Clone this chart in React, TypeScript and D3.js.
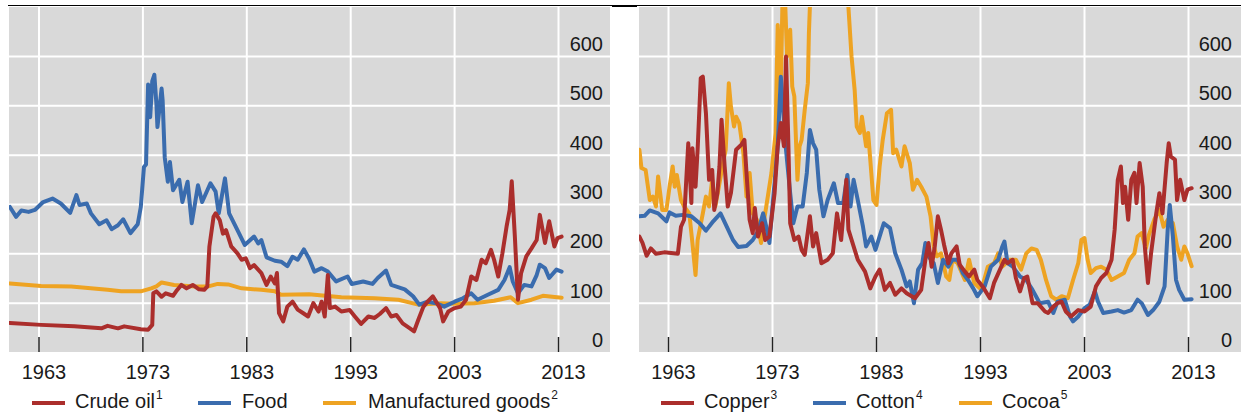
import React from "react";
import * as d3 from "d3";

// values, [year, index]
const crudeOil: [number, number][] = [
  [1960.2, 60], [1963.2, 56], [1966.4, 53], [1969, 49], [1969.6, 54], [1970.6, 49], [1971.2, 53], [1972.8, 47],
  [1973.5, 46], [1973.9, 56], [1974.0, 120], [1974.3, 124], [1974.8, 113], [1975.2, 120], [1975.9, 115],
  [1976.2, 124], [1976.7, 137], [1977.2, 130], [1977.8, 137], [1978.4, 128], [1978.9, 127], [1979.2, 134],
  [1979.4, 215], [1979.8, 275], [1980, 282], [1980.4, 268], [1980.7, 241], [1981, 248], [1981.5, 215],
  [1982.1, 201], [1982.5, 188], [1982.9, 191], [1983.3, 171], [1983.7, 177], [1984.4, 161], [1984.9, 137],
  [1985.3, 154], [1985.7, 140], [1985.9, 161], [1986.1, 80], [1986.5, 63], [1986.9, 93], [1987.4, 103],
  [1987.9, 87], [1988.4, 80], [1988.9, 73], [1989.4, 100], [1989.9, 83], [1990.2, 103], [1990.5, 73],
  [1990.8, 157], [1991, 90], [1991.5, 93], [1992.1, 83], [1992.9, 86], [1993.4, 73], [1994, 58], [1994.7, 73],
  [1995.3, 70], [1995.8, 78], [1996.4, 90], [1996.9, 73], [1997.4, 76], [1998, 59], [1998.7, 49], [1999.1, 43],
  [1999.5, 66], [2000, 93], [2000.4, 103], [2000.9, 114], [2001.6, 90], [2001.9, 63], [2002.4, 83], [2003, 90],
  [2003.6, 93], [2004.1, 107], [2004.6, 154], [2005.1, 147], [2005.6, 188], [2006, 181], [2006.5, 208],
  [2006.8, 188], [2007.2, 154], [2007.6, 201], [2008, 255], [2008.3, 289], [2008.5, 347], [2008.8, 235],
  [2009.1, 107], [2009.4, 161], [2009.9, 195], [2010.4, 211], [2010.9, 228], [2011.2, 279], [2011.7, 222],
  [2012.1, 266], [2012.6, 215], [2012.9, 232], [2013.3, 235],
];

const food: [number, number][] = [
  [1960.2, 295], [1960.8, 275], [1961.3, 288], [1962, 285], [1962.6, 289], [1963.4, 305], [1964.3, 312],
  [1965.1, 302], [1966, 283], [1966.6, 319], [1966.9, 299], [1967.6, 302], [1968, 282], [1968.8, 260],
  [1969.5, 268], [1970, 250], [1970.6, 258], [1971.1, 270], [1971.8, 242], [1972.5, 260], [1972.8, 295],
  [1973.1, 376], [1973.3, 381], [1973.5, 543], [1973.7, 477], [1973.9, 550], [1974.1, 563], [1974.3, 504],
  [1974.4, 457], [1974.8, 535], [1974.9, 511], [1975.1, 396], [1975.4, 346], [1975.6, 386], [1975.9, 329],
  [1976.5, 350], [1976.8, 305], [1977.3, 346], [1977.7, 262], [1978.3, 339], [1978.7, 305], [1979.5, 343],
  [1980, 326], [1980.3, 282], [1980.9, 353], [1981.3, 282], [1982.1, 248], [1982.8, 218], [1983.7, 235],
  [1984.1, 221], [1984.4, 228], [1984.9, 193], [1985.7, 186], [1986.3, 184], [1986.9, 175], [1987.4, 194],
  [1987.9, 188], [1988.5, 209], [1989, 190], [1989.5, 164], [1990.2, 171], [1990.8, 164], [1991.6, 144],
  [1992.7, 154], [1993.1, 139], [1994.2, 144], [1995.1, 139], [1995.6, 151], [1996.4, 166], [1996.9, 137],
  [1998.2, 128], [1999, 114], [1999.6, 97], [2000.4, 103], [2001.2, 100], [2002, 93], [2003, 103],
  [2003.8, 110], [2004.6, 120], [2005.2, 107], [2006.2, 117], [2007.2, 127], [2007.8, 147], [2008.3, 173],
  [2008.6, 144], [2009.1, 120], [2009.7, 137], [2010.4, 134], [2010.9, 157], [2011.2, 178], [2011.7, 171],
  [2012.1, 151], [2012.8, 168], [2013.3, 164],
];

const manufactured: [number, number][] = [
  [1960.2, 140], [1963.2, 135], [1966.1, 134], [1969.6, 127], [1970.9, 124], [1972.8, 124], [1973.8, 130],
  [1974.3, 134], [1974.8, 142], [1976, 137], [1978, 134], [1979.3, 134], [1980.2, 139], [1981.2, 138],
  [1982.5, 130], [1984.4, 127], [1985.7, 124], [1986.3, 117], [1989, 118], [1992.1, 112], [1995.3, 110],
  [1997.6, 107], [1999.5, 97], [2001.7, 100], [2003, 99], [2004.9, 100], [2006.8, 105], [2008.4, 112],
  [2009.1, 100], [2010.4, 107], [2011.5, 115], [2013.3, 111],
];

const copper: [number, number][] = [
  [1960.2, 235], [1960.5, 222], [1960.9, 196], [1961.3, 211], [1961.8, 200], [1962.6, 203], [1963.9, 200],
  [1964.2, 255], [1964.5, 269], [1964.9, 424], [1965.2, 303], [1965.3, 414], [1965.6, 336], [1965.8, 411],
  [1966.1, 556], [1966.3, 559], [1966.6, 485], [1966.9, 350], [1967.2, 370], [1967.4, 289], [1967.7, 323],
  [1967.9, 377], [1968.1, 472], [1968.4, 377], [1968.7, 296], [1969, 323], [1969.5, 411], [1970, 421],
  [1970.3, 431], [1970.5, 364], [1970.8, 269], [1971.1, 242], [1971.3, 293], [1971.6, 235], [1972, 262],
  [1972.3, 228], [1972.7, 235], [1973.2, 323], [1973.5, 418], [1973.8, 465], [1974.1, 418], [1974.3, 600],
  [1974.5, 445], [1974.7, 262], [1975.1, 228], [1975.5, 235], [1975.8, 208], [1976.1, 198], [1976.6, 276],
  [1976.9, 215], [1977.2, 242], [1977.7, 181], [1978.3, 188], [1978.8, 201], [1979.2, 282], [1979.6, 228],
  [1980.1, 350], [1980.3, 249], [1980.8, 215], [1981.2, 188], [1981.9, 164], [1982.4, 130], [1982.9, 154],
  [1983.3, 168], [1983.8, 127], [1984.3, 141], [1984.8, 117], [1985.4, 130], [1985.9, 120], [1986.7, 110],
  [1987.3, 127], [1987.7, 188], [1988, 222], [1988.3, 174], [1988.6, 215], [1988.9, 276], [1989.2, 249],
  [1989.5, 218], [1989.9, 181], [1990.2, 201], [1990.7, 215], [1991, 178], [1991.5, 164], [1991.9, 154],
  [1992.4, 168], [1992.7, 147], [1993.2, 134], [1993.9, 110], [1994.3, 141], [1995, 174], [1995.3, 188],
  [1995.6, 181], [1996.1, 188], [1996.4, 151], [1996.8, 124], [1997.2, 151], [1997.5, 154], [1998, 100],
  [1998.5, 100], [1999.2, 83], [1999.5, 80], [2000, 93], [2000.4, 100], [2000.8, 103], [2001.2, 83],
  [2001.7, 73], [2002.4, 86], [2003, 83], [2003.6, 93], [2004.1, 134], [2004.6, 151], [2005.1, 161],
  [2005.6, 188], [2005.9, 249], [2006.2, 350], [2006.5, 377], [2006.7, 303], [2006.9, 336], [2007.2, 269],
  [2007.5, 350], [2007.8, 364], [2008, 303], [2008.3, 384], [2008.6, 336], [2008.8, 215], [2009.1, 141],
  [2009.4, 201], [2009.9, 282], [2010.2, 323], [2010.5, 282], [2010.9, 384], [2011.1, 424], [2011.3, 397],
  [2011.7, 391], [2011.9, 309], [2012.2, 350], [2012.6, 309], [2012.9, 330], [2013.3, 333],
];

const cotton: [number, number][] = [
  [1960.2, 276], [1960.7, 277], [1961.2, 288], [1962, 282], [1962.8, 266], [1963.1, 284], [1963.7, 277],
  [1964.4, 279], [1965.2, 276], [1966, 262], [1966.6, 247], [1967.3, 266], [1968, 282], [1968.6, 255],
  [1969.2, 228], [1969.7, 214], [1970.5, 216], [1971.1, 228], [1971.6, 245], [1972.1, 282], [1972.4, 255],
  [1972.7, 222], [1973, 296], [1973.5, 418], [1973.8, 559], [1974, 499], [1974.3, 411], [1974.7, 323],
  [1975, 262], [1975.4, 296], [1975.9, 296], [1976.3, 364], [1976.6, 451], [1976.9, 424], [1977.2, 411],
  [1977.5, 330], [1977.9, 276], [1978.3, 309], [1978.9, 343], [1979.3, 303], [1979.8, 303], [1980.2, 360],
  [1980.5, 296], [1980.8, 350], [1981.2, 309], [1981.7, 255], [1982, 215], [1982.5, 235], [1982.9, 208],
  [1983.4, 242], [1983.7, 262], [1984.3, 252], [1984.8, 201], [1985.4, 168], [1985.9, 134], [1986.2, 144],
  [1986.6, 100], [1987, 168], [1987.4, 181], [1987.7, 222], [1988, 195], [1988.5, 181], [1988.9, 141],
  [1989.4, 188], [1989.9, 174], [1990.3, 188], [1990.8, 188], [1991.3, 161], [1991.8, 147], [1992.3, 130],
  [1992.7, 114], [1993.4, 134], [1994, 174], [1994.7, 188], [1995.1, 215], [1995.3, 225], [1995.6, 181],
  [1996.1, 174], [1996.8, 154], [1997.4, 147], [1998, 127], [1998.7, 100], [1999.5, 103], [2000, 80],
  [2000.4, 103], [2001.1, 107], [2001.6, 73], [2001.9, 63], [2002.4, 73], [2003, 90], [2003.5, 97],
  [2004, 124], [2004.3, 103], [2004.8, 80], [2005.6, 83], [2006.2, 86], [2006.8, 81], [2007.5, 86],
  [2008.1, 107], [2008.5, 100], [2009.1, 76], [2009.6, 86], [2010.2, 103], [2010.7, 134], [2011, 249],
  [2011.2, 299], [2011.5, 235], [2011.8, 147], [2012.1, 127], [2012.6, 107], [2013.3, 108],
];

// cocoa runs off the top of the panel in the late 1970s
const cocoa: [number, number][] = [
  [1960.2, 411], [1960.4, 374], [1960.8, 370], [1961.2, 309], [1961.5, 316], [1961.8, 296], [1962, 357],
  [1962.4, 289], [1962.8, 289], [1963.1, 336], [1963.4, 377], [1963.6, 336], [1963.8, 360], [1964.2, 309],
  [1964.5, 296], [1965, 282], [1965.3, 222], [1965.6, 157], [1965.8, 228], [1966.3, 282], [1966.6, 316],
  [1966.9, 296], [1967.2, 350], [1967.5, 296], [1967.9, 343], [1968.3, 391], [1968.5, 411], [1968.8, 546],
  [1969, 499], [1969.3, 458], [1969.5, 478], [1969.8, 465], [1970.2, 404], [1970.5, 316], [1970.8, 364],
  [1971.1, 282], [1971.5, 269], [1971.9, 222], [1972.2, 269], [1972.6, 323], [1972.9, 364], [1973.3, 445],
  [1973.5, 664], [1973.8, 532], [1974.0, 760], [1974.2, 720], [1974.4, 600], [1974.7, 654], [1974.9, 539],
  [1975.1, 519], [1975.4, 350], [1975.6, 418], [1975.8, 431], [1976.1, 492], [1976.4, 546], [1976.5, 647],
  [1976.7, 760], [1977.2, 950], [1977.6, 1000], [1978.1, 820], [1978.6, 900], [1979.1, 800], [1979.7, 780],
  [1980.1, 740], [1980.3, 700], [1980.6, 600], [1980.9, 532], [1981.1, 458], [1981.4, 445], [1981.6, 478],
  [1982, 418], [1982.2, 445], [1982.5, 364], [1982.7, 309], [1983, 299], [1983.3, 377], [1983.6, 431],
  [1984, 485], [1984.4, 492], [1984.6, 404], [1984.9, 411], [1985.4, 377], [1985.7, 418], [1986.2, 384],
  [1986.5, 330], [1986.9, 350], [1987.3, 336], [1987.8, 316], [1988.2, 276], [1988.5, 215], [1988.8, 195],
  [1989.2, 201], [1989.7, 154], [1990, 147], [1990.3, 188], [1990.8, 181], [1991.5, 147], [1991.9, 188],
  [1992.4, 141], [1993.1, 127], [1993.7, 174], [1994.3, 181], [1994.7, 201], [1995.1, 174], [1995.8, 188],
  [1996.4, 188], [1996.9, 168], [1997.4, 201], [1997.9, 211], [1998.4, 208], [1998.8, 188], [1999.3, 147],
  [1999.8, 114], [2000.3, 107], [2000.8, 114], [2001.4, 110], [2001.9, 147], [2002.4, 181], [2002.7, 228],
  [2003, 232], [2003.3, 188], [2003.6, 161], [2004.1, 171], [2004.6, 174], [2005.1, 168], [2005.6, 147],
  [2006.2, 154], [2006.8, 161], [2007.3, 188], [2007.8, 201], [2008.1, 235], [2008.5, 242], [2008.9, 211],
  [2009.2, 239], [2009.7, 269], [2010.2, 289], [2010.6, 255], [2011, 269], [2011.5, 262], [2011.9, 215],
  [2012.3, 188], [2012.6, 215], [2012.9, 201], [2013.3, 175],
];

const yearTicks = [1963, 1973, 1983, 1993, 2003, 2013];
const valueTicks = [0, 100, 200, 300, 400, 500, 600];

const RED = "#ab2e2c";
const BLUE = "#3a6cae";
const ORANGE = "#eea322";
const FONT = "'Liberation Sans', Arial, sans-serif";

const panels = [
  {
    id: "left",
    x0: 9, x1: 610, tick0: 39, tick1: 558.5, labelRight: 603,
    series: [
      { data: manufactured, color: ORANGE },
      { data: food, color: BLUE },
      { data: crudeOil, color: RED },
    ],
    legend: [
      { label: "Crude oil", sup: "1", color: RED, lx: 32, tx: 75 },
      { label: "Food", sup: "", color: BLUE, lx: 198, tx: 242 },
      { label: "Manufactured goods", sup: "2", color: ORANGE, lx: 323, tx: 368 },
    ],
  },
  {
    id: "right",
    x0: 639, x1: 1241, tick0: 668.5, tick1: 1188.5, labelRight: 1232,
    series: [
      { data: cocoa, color: ORANGE },
      { data: cotton, color: BLUE },
      { data: copper, color: RED },
    ],
    legend: [
      { label: "Copper", sup: "3", color: RED, lx: 661, tx: 704 },
      { label: "Cotton", sup: "4", color: BLUE, lx: 813, tx: 856 },
      { label: "Cocoa", sup: "5", color: ORANGE, lx: 959, tx: 1002 },
    ],
  },
];

const TOP = 7;
const BOTTOM = 352;

function Panel({ p }: { p: (typeof panels)[number] }) {
  const x = d3.scaleLinear().domain([1963, 2013]).range([p.tick0, p.tick1]);
  const y = d3.scaleLinear().domain([0, 600]).range([352.5, 56.5]);
  const line = d3
    .line<[number, number]>()
    .x((d) => x(d[0]))
    .y((d) => y(d[1]));
  const clipId = "clip-" + p.id;

  return (
    <g>
      <defs>
        <clipPath id={clipId}>
          <rect x={p.x0} y={TOP} width={p.x1 - p.x0} height={BOTTOM - TOP} />
        </clipPath>
      </defs>
      <rect x={p.x0} y={TOP} width={p.x1 - p.x0} height={BOTTOM - TOP} fill="#d9d9d9" />
      {valueTicks
        .filter((v) => v > 0)
        .map((v) => (
          <line key={"h" + v} x1={p.x0} x2={p.x1} y1={y(v)} y2={y(v)} stroke="#fff" strokeWidth={2} />
        ))}
      {yearTicks.map((t) => (
        <g key={"v" + t}>
          <line x1={x(t)} x2={x(t)} y1={TOP} y2={BOTTOM} stroke="#fff" strokeWidth={2} />
          <line x1={x(t)} x2={x(t)} y1={337} y2={BOTTOM} stroke="#222" strokeWidth={1.5} />
        </g>
      ))}
      <g clipPath={`url(#${clipId})`}>
        {p.series.map((s, i) => (
          <path
            key={i}
            d={line(s.data) || ""}
            fill="none"
            stroke={s.color}
            strokeWidth={4}
            strokeLinejoin="round"
            strokeLinecap="round"
          />
        ))}
      </g>
      {valueTicks.map((v) => (
        <text
          key={"yl" + v}
          x={p.labelRight}
          y={y(v) - 5.5}
          textAnchor="end"
          fontFamily={FONT}
          fontSize={20}
          fill="#1a1a1a"
        >
          {v}
        </text>
      ))}
      {yearTicks.map((t) => (
        <text
          key={"xl" + t}
          x={x(t) + 5}
          y={379}
          textAnchor="middle"
          fontFamily={FONT}
          fontSize={20}
          fill="#1a1a1a"
        >
          {t}
        </text>
      ))}
      {p.legend.map((l) => (
        <g key={l.label}>
          <line x1={l.lx} x2={l.lx + 33} y1={403} y2={403} stroke={l.color} strokeWidth={4} />
          <text x={l.tx} y={408} fontFamily={FONT} fontSize={20} fill="#1a1a1a">
            {l.label}
            {l.sup && (
              <tspan fontSize={12} dy={-9} dx={1}>
                {l.sup}
              </tspan>
            )}
          </text>
        </g>
      ))}
    </g>
  );
}

export default function App() {
  return (
    <svg
      width={1241}
      height={414}
      style={{ position: "absolute", left: 0, top: 0, background: "#fff" }}
    >
      <line x1={8} x2={1241} y1={5.5} y2={5.5} stroke="#000" strokeWidth={1} />
      <rect x={612} y={5} width={25} height={2} fill="#000" />
      {panels.map((p) => (
        <Panel key={p.id} p={p} />
      ))}
    </svg>
  );
}
